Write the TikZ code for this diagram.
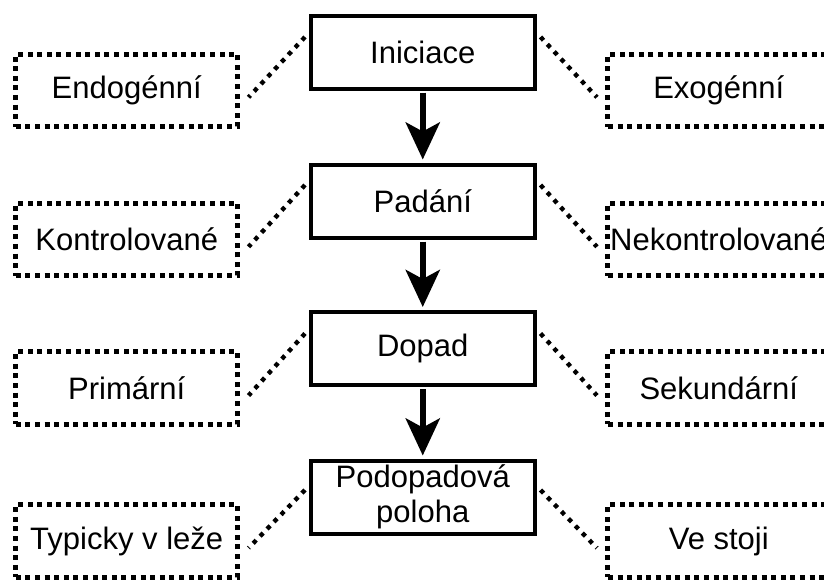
\documentclass[tikz,border=0pt]{standalone}
\usepackage{fontspec}
\setmainfont{Liberation Sans}
\usetikzlibrary{arrows.meta,calc}
\begin{document}
\begin{tikzpicture}[x=1pt,y=-1pt,
  txt/.style={font=\fontsize{31}{35}\selectfont},
  mainbox/.style={txt,draw,line width=4pt,minimum width=223.5pt,minimum height=73pt,inner sep=0pt,align=center},
  sidebox/.style={txt,draw,line width=5pt,dash pattern=on 5pt off 4.6pt,minimum width=221.7pt,minimum height=72.5pt,inner sep=0pt},
  flow/.style={line width=6pt,-{Stealth[length=37pt,width=34pt,inset=9pt]},shorten <=2pt,shorten >=3pt},
  link/.style={line width=4.4pt,dash pattern=on 4.4pt off 5.6pt}]
\path[use as bounding box,fill=white] (0,0) rectangle (824,581);
\clip (0,0) rectangle (824,581);
% main column
\node[mainbox] (c1) at (422.75,52) {Iniciace};
\node[mainbox] (c2) at (422.75,201) {Padání};
\node[mainbox] (c3) at (422.75,348.5) {Dopad};
\node[mainbox] (c4) at (422.75,497) {Podopadová\\poloha};
% left side
\node[sidebox] (l1) at (126.7,90.3) {Endogénní};
\node[sidebox] (l2) at (126.7,239.3) {Kontrolované};
\node[sidebox] (l3) at (126.7,388) {Primární};
\node[sidebox] (l4) at (126.7,541) {Typicky v leže};
% right side
\node[sidebox] (r1) at (718.8,90.3) {Exogénní};
\node[sidebox] (r2) at (718.8,239.3) {Nekontrolované};
\node[sidebox] (r3) at (718.8,388) {Sekundární};
\node[sidebox] (r4) at (718.8,541) {Ve stoji};
% flow arrows
\draw[flow] (c1.south) -- (c2.north);
\draw[flow] (c2.south) -- (c3.north);
\draw[flow] (c3.south) -- (c4.north);
% dotted links
\draw[link] ($(c1.west)+(-4,-15)$) -- ($(l1.east)+(8.5,7)$);
\draw[link] ($(c2.west)+(-4,-16)$) -- ($(l2.east)+(8.5,7.5)$);
\draw[link] ($(c3.west)+(-4,-15)$) -- ($(l3.east)+(8.5,7.5)$);
\draw[link] ($(c4.west)+(-4,-7)$) -- ($(l4.east)+(8.5,7)$);
\draw[link] ($(c1.east)+(4,-15)$) -- ($(r1.west)+(-8.5,7)$);
\draw[link] ($(c2.east)+(4,-16)$) -- ($(r2.west)+(-8.5,7.5)$);
\draw[link] ($(c3.east)+(4,-15)$) -- ($(r3.west)+(-8.5,7.5)$);
\draw[link] ($(c4.east)+(4,-7)$) -- ($(r4.west)+(-8.5,7)$);
\end{tikzpicture}
\end{document}
